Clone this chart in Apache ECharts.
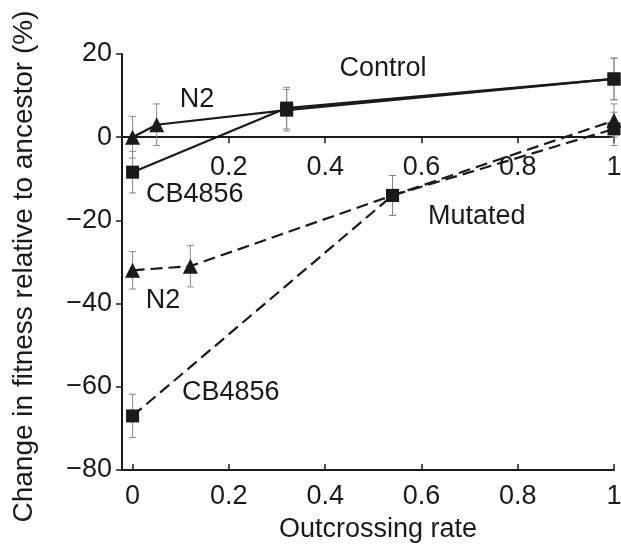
<!DOCTYPE html>
<html>
<head>
<meta charset="utf-8">
<script src="https://cdn.jsdelivr.net/npm/echarts@6/dist/echarts.min.js"></script>
<style>
  html, body { margin: 0; padding: 0; background: #fff; }
  #main { width: 621px; height: 546px; }
</style>
</head>
<body>
<div id="main"></div>
<script>
// control lines (solid)
const ctrlN2X = [0, 0.05, 0.32, 1]
const ctrlN2Y = [0, 3, 6.5, 14]
const ctrlN2Err = [5, 5, 5, 5]
const ctrlN2Sym = ['triangle', 'triangle', 'rect', 'rect']

const ctrlCbX = [0, 0.32, 1]
const ctrlCbY = [-8.4, 7, 14]
const ctrlCbErr = [5, 5, 5]

// mutated lines (dashed)
const mutN2X = [0, 0.12, 0.54, 1]
const mutN2Y = [-32, -31, -14, 4]
const mutN2Err = [4.5, 5, 4.8, 4]
const mutN2Sym = ['triangle', 'triangle', 'rect', 'triangle']

const mutCbX = [0, 0.54, 1]
const mutCbY = [-67, -14, 2]
const mutCbErr = [5.2, 4.8, 4]

// tick labels
const xTicksBottom = [0, 0.2, 0.4, 0.6, 0.8, 1]
const xTicksZero = [0.2, 0.4, 0.6, 0.8, 1]

// text annotations, in data coordinates
const noteText = ['Control', 'N2', 'CB4856', 'Mutated', 'N2', 'CB4856']
const noteX = [0.52, 0.134, 0.129, 0.715, 0.063, 0.204]
const noteY = [16.5, 9, -13.8, -19, -39.2, -61.5]

const font = 'Liberation Sans, Arial, Helvetica, sans-serif'
const ink = '#1a1a1a'
const fs = 27
const gridTop = 54

const errPts = (xs, ys, es) => xs.map((x, i) => [x, ys[i], es[i]])

//误差线
const errBars = (params, api) => {
  const x = api.value(0), y = api.value(1), e = api.value(2)
  const hi = api.coord([x, y + e])
  const lo = api.coord([x, y - e])
  const w = 3.5
  const st = { stroke: '#8a8a8a', lineWidth: 1 }
  return {
    type: 'group',
    children: [
      { type: 'line', shape: { x1: hi[0], y1: hi[1], x2: lo[0], y2: lo[1] }, style: st },
      { type: 'line', shape: { x1: hi[0] - w, y1: hi[1], x2: hi[0] + w, y2: hi[1] }, style: st },
      { type: 'line', shape: { x1: lo[0] - w, y1: lo[1], x2: lo[0] + w, y2: lo[1] }, style: st }
    ]
  }
}

const errSeries = (data) => ({
  type: 'custom',
  xAxisIndex: 0,
  renderItem: errBars,
  data,
  z: 1,
  silent: true
})

const lineSeries = (xs, ys, syms, dashed) => ({
  type: 'line',
  xAxisIndex: 0,
  data: xs.map((x, i) => ({ value: [x, ys[i]], symbol: syms[i] })),
  symbolSize: (v, p) => (p.data.symbol === 'triangle' ? 15 : 13),
  lineStyle: { color: ink, width: 2.2, type: dashed ? [12, 6] : 'solid' },
  itemStyle: { color: ink },
  z: 3,
  silent: true
})

const chart = echarts.init(document.getElementById('main'))
chart.setOption({
  animation: false,
  backgroundColor: '#fff',
  textStyle: { fontFamily: font },
  grid: { left: 122, right: 7, top: gridTop, bottom: 76, outerBoundsMode: 'none' },
  xAxis: [
    {
      type: 'value',
      min: -0.022,
      max: 1,
      position: 'bottom',
      name: 'Outcrossing rate',
      nameLocation: 'middle',
      nameGap: 46,
      nameTextStyle: { fontSize: fs, color: ink, fontFamily: font, padding: [0, 0, 0, 20] },
      splitLine: { show: false },
      axisLine: { onZero: false, lineStyle: { color: ink, width: 2 } },
      axisTick: { inside: true, length: 6, customValues: xTicksBottom, lineStyle: { color: ink, width: 1.5 } },
      axisLabel: { customValues: xTicksBottom, fontSize: fs, color: ink, margin: 13, fontFamily: font }
    },
    {
      // 零线上的坐标轴，offset 在下面按 y=0 的位置算
      type: 'value',
      min: -0.022,
      max: 1,
      position: 'top',
      offset: 0,
      splitLine: { show: false },
      axisLine: { onZero: false, lineStyle: { color: ink, width: 2 } },
      axisTick: { inside: true, length: 6, customValues: xTicksZero, lineStyle: { color: ink, width: 1.5 } },
      axisLabel: { inside: true, customValues: xTicksZero, fontSize: fs, color: ink, margin: 17, fontFamily: font }
    }
  ],
  yAxis: {
    type: 'value',
    min: -80,
    max: 20,
    interval: 20,
    name: 'Change in fitness relative to ancestor (%)',
    nameLocation: 'middle',
    nameGap: 84,
    nameTextStyle: { fontSize: 28, color: ink, fontFamily: font, padding: [0, 9, 0, 0] },
    splitLine: { show: false },
    axisLine: { onZero: false, lineStyle: { color: ink, width: 2 } },
    axisTick: { length: 6, lineStyle: { color: ink, width: 1.5 } },
    axisLabel: {
      fontSize: fs, color: ink, margin: 10, fontFamily: font,
      formatter: v => (v < 0 ? '\u2212' + Math.abs(v) : String(v))
    }
  },
  series: [
    errSeries(errPts(ctrlN2X, ctrlN2Y, ctrlN2Err)),
    errSeries(errPts(ctrlCbX, ctrlCbY, ctrlCbErr)),
    errSeries(errPts(mutN2X, mutN2Y, mutN2Err)),
    errSeries(errPts(mutCbX, mutCbY, mutCbErr)),
    lineSeries(ctrlN2X, ctrlN2Y, ctrlN2Sym, false),
    lineSeries(ctrlCbX, ctrlCbY, ctrlCbX.map(() => 'rect'), false),
    lineSeries(mutN2X, mutN2Y, mutN2Sym, true),
    lineSeries(mutCbX, mutCbY, mutCbX.map(() => 'rect'), true),
    {
      type: 'scatter',
      xAxisIndex: 0,
      symbolSize: 0,
      silent: true,
      itemStyle: { opacity: 1 },
      data: noteX.map((x, i) => ({ value: [x, noteY[i]], name: noteText[i] })),
      label: {
        show: true,
        position: 'inside',
        formatter: p => p.name,
        fontSize: fs,
        color: ink,
        fontFamily: font
      },
      z: 5
    }
  ]
})

// move the second x axis down onto y = 0
const zeroY = chart.convertToPixel({ yAxisIndex: 0 }, 0)
chart.setOption({ xAxis: [{}, { offset: -(zeroY - gridTop) }] })
</script>
</body>
</html>
